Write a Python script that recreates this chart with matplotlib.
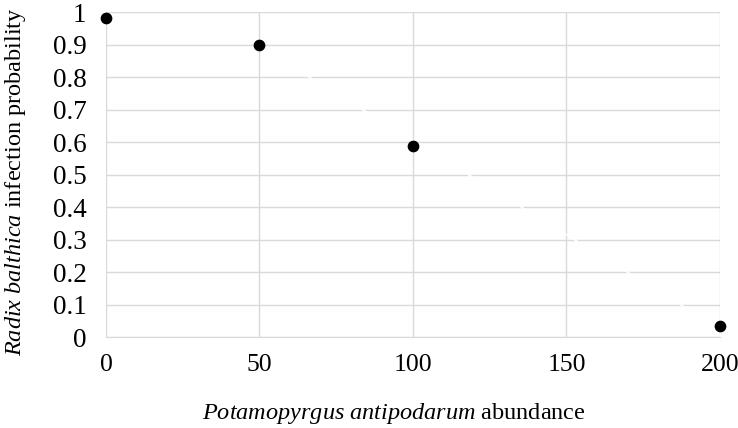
import matplotlib
matplotlib.use("Agg")
import matplotlib.pyplot as plt

# abundance vs infection probability
abundance = [0, 50, 100, 200]
infection = [0.982, 0.90, 0.588, 0.033]

# faint white trend line seen crossing the grid
trend_x = [50, 200]
trend_y = [0.895, 0.025]

x_ticks = [0, 50, 100, 150, 200]
y_ticks = [0, 0.1, 0.2, 0.3, 0.4, 0.5, 0.6, 0.7, 0.8, 0.9, 1]
y_labels = ["0", "0.1", "0.2", "0.3", "0.4", "0.5", "0.6", "0.7", "0.8", "0.9", "1"]

plt.rcParams["font.family"] = ["Liberation Serif", "DejaVu Serif"]
plt.rcParams["mathtext.fontset"] = "custom"
plt.rcParams["mathtext.rm"] = "Liberation Serif"
plt.rcParams["mathtext.it"] = "Liberation Serif:italic"

fig = plt.figure(figsize=(7.38, 4.28), dpi=100)
ax = fig.add_axes([0.1436, 0.2126, 0.832, 0.7584])

ax.grid(True, color="#d9d9d9", linewidth=1)
ax.set_axisbelow(True)
ax.plot(trend_x, trend_y, color="white", linewidth=1.2, zorder=2)
ax.scatter(abundance, infection, s=55, color="black", zorder=3, clip_on=False)

ax.set_xlim(0, 200)
ax.set_ylim(0, 1)
ax.set_xticks(x_ticks)
ax.set_yticks(y_ticks)
ax.set_yticklabels(y_labels)
ax.tick_params(axis="y", length=0, labelsize=19.5, pad=14)
ax.tick_params(axis="x", length=0, labelsize=18.5, pad=12)
for side in ["top", "right", "left"]:
    ax.spines[side].set_visible(False)
ax.spines["bottom"].set_color("#d9d9d9")

ax.set_xlabel("$\\it{Potamopyrgus\\ antipodarum}$ abundance", fontsize=17.5, labelpad=18)
ax.xaxis.label.set_x(0.469)
ax.set_ylabel("$\\it{Radix\\ balthica}$ infection probability", fontsize=17.5, labelpad=18)
ax.yaxis.label.set_y(0.48)

fig.savefig("out.png", dpi=100)
